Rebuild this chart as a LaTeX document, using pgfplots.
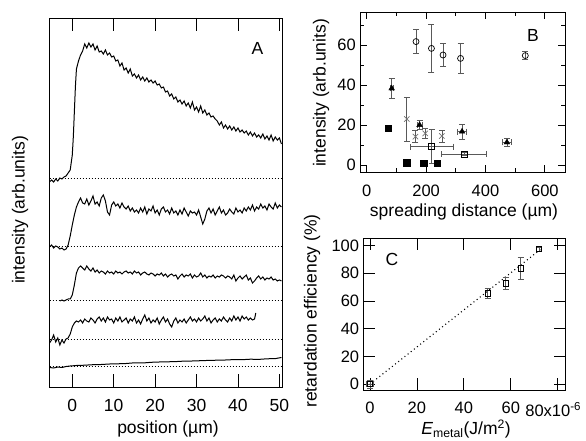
\documentclass[border=0pt]{standalone}
\usepackage{fontspec}
\setmainfont{Liberation Sans}
\usepackage{pgfplots}
\pgfplotsset{compat=1.18}
\newcommand\fs{\fontsize{17.5}{21}\selectfont}
\newcommand\ts{\fontsize{16.5}{19}\selectfont}
\pgfplotsset{
  panel/.style={scale only axis, anchor=south west, tick align=inside,
    axis line style={line width=0.8pt},
    every tick/.style={black, line width=0.8pt},
    /pgf/number format/assume math mode=true,
    tick label style={font=\ts, inner sep=0pt},
    xticklabel style={yshift=-12pt}, yticklabel style={xshift=-4pt}},
  trace/.style={black, line width=1pt, mark=none},
  base/.style={black, line width=0.6pt, dash pattern=on 1pt off 2pt},
  barstyle/.style={/pgfplots/error bars/error bar style={black!65, line width=0.7pt},
    /pgfplots/error bars/error mark options={rotate=90, black!65, mark size=3pt, line width=0.7pt}},
  bars/.style={barstyle, /pgfplots/error bars/y dir=both, /pgfplots/error bars/y explicit,
    /pgfplots/error bars/x dir=both, /pgfplots/error bars/x explicit},
  ybars/.style={barstyle, /pgfplots/error bars/y dir=both, /pgfplots/error bars/y explicit},
}
\begin{document}
\begin{tikzpicture}
\useasboundingbox (0,0) rectangle (586pt,441pt);

% A: intensity profiles, y in px above the bottom of the frame
\begin{axis}[panel, at={(49.5pt,54pt)}, width=233.2pt, height=369pt,
  xmin=-5.5, xmax=50.8, ymin=0, ymax=369,
  xtick={0,10,...,50}, ytick=\empty, major tick length=13pt,
  tick label style={font=\fs}]
\addplot[base] coordinates {(-5.5,208.7) (50.8,208.7)};
\addplot[base] coordinates {(-5.5,141) (50.8,141)};
\addplot[base] coordinates {(-5.5,87) (50.8,87)};
\addplot[base] coordinates {(-5.5,48) (50.8,48)};
\addplot[base] coordinates {(-5.5,20.3) (50.8,20.3)};
\addplot[trace] coordinates {
(-5.5,205) (-5,207) (-4.5,205) (-4,208) (-3.5,206) (-3,209) (-2.5,208) (-2,210)
(-1.5,211) (-1,214) (-0.5,217) (0,232) (0.25,250) (0.5,275) (0.75,300) (1,318)
(1.5,326) (2,332) (2.5,336) (3,343) (3.5,339) (4,344) (4.5,340) (5,343) (5.5,337)
(6,341) (6.5,335) (7,336) (7.5,333) (8,337) (8.5,332) (9,334) (9.5,330) (10,331)
(10.5,326) (11,327) (11.5,321) (12,324) (12.5,317) (13,319) (13.5,314) (14,318)
(14.5,311) (15,313) (15.5,309) (16,312) (16.5,307) (17,310) (17.5,306) (18,309)
(18.5,305) (19,307) (19.5,304) (20,306) (20.5,302) (21,303) (21.5,299) (22,300)
(22.5,295) (23,296) (23.5,291) (24,293) (24.5,288) (25,290) (25.5,285) (26,287)
(26.5,283) (27,286) (27.5,281) (28,284) (28.5,279) (29,285) (29.5,277) (30,280)
(30.5,275) (31,281) (31.5,274) (32,277) (32.5,272) (33,274) (33.5,270) (34,271)
(34.5,268) (35,266) (35.5,262) (36,265) (36.5,259) (37,262) (37.5,258) (38,261)
(38.5,257) (39,260) (39.5,256) (40,259) (40.5,255) (41,257) (41.5,254) (42,256)
(42.5,252) (43,255) (43.5,251) (44,254) (44.5,250) (45,252) (45.5,249) (46,253)
(46.5,248) (47,251) (47.5,247) (48,252) (48.5,246) (49,250) (49.5,247) (50,249)
(50.5,243)};
\addplot[trace] coordinates {
(-5.5,140) (-5,142) (-4.5,139) (-4,141) (-3.5,140) (-3,138) (-2.5,139) (-2,137)
(-1.5,138) (-1,142) (-0.5,151) (0,162) (0.5,172) (1,180) (1.5,185) (2,189)
(2.5,184) (3,183) (3.5,188) (4,182) (4.5,186) (5,191) (5.5,183) (6,185) (6.5,181)
(7,189) (7.5,192) (8,186) (8.5,175) (9,172) (9.5,182) (10,185) (10.5,181) (11,183)
(11.5,179) (12,184) (12.5,180) (13,178) (13.5,181) (14,176) (14.5,179) (15,175)
(15.5,177) (16,174) (16.5,179) (17,175) (17.5,180) (18,173) (18.5,178) (19,176)
(19.5,181) (20,174) (20.5,177) (21,172) (21.5,178) (22,180) (22.5,175) (23,177)
(23.5,173) (24,179) (24.5,174) (25,176) (25.5,172) (26,177) (26.5,173) (27,179)
(27.5,175) (28,171) (28.5,176) (29,174) (29.5,175) (30,172) (30.5,177) (31,170)
(31.5,163) (32,168) (32.5,176) (33,179) (33.5,174) (34,178) (34.5,172) (35,176)
(35.5,180) (36,174) (36.5,177) (37,172) (37.5,174) (38,178) (38.5,175) (39,173)
(39.5,179) (40,175) (40.5,177) (41,174) (41.5,179) (42,176) (42.5,180) (43,177)
(43.5,182) (44,176) (44.5,180) (45,178) (45.5,183) (46,179) (46.5,181) (47,177)
(47.5,183) (48,180) (48.5,178) (49,184) (49.5,179) (50,182) (50.5,180)};
\addplot[trace] coordinates {
(-3,86) (-2.5,87) (-2,86) (-1.5,87) (-1,88) (-0.5,88) (0,92) (0.5,102) (1,114)
(1.5,119) (2,121) (2.5,119) (3,117) (3.5,121) (4,118) (4.5,116) (5,119) (5.5,115)
(6,117) (6.5,114) (7,116) (7.5,115) (8,113) (8.5,116) (9,114) (9.5,115) (10,113)
(10.5,116) (11,114) (11.5,115) (12,113) (12.5,115) (13,116) (13.5,114) (14,115)
(14.5,113) (15,116) (15.5,114) (16,115) (16.5,112) (17,114) (17.5,115) (18,113)
(18.5,112) (19,114) (19.5,113) (20,111) (20.5,113) (21,112) (21.5,114) (22,111)
(22.5,113) (23,110) (23.5,112) (24,113) (24.5,111) (25,112) (25.5,108) (26,111)
(26.5,113) (27,110) (27.5,112) (28,111) (28.5,113) (29,109) (29.5,112) (30,110)
(30.5,111) (31,114) (31.5,110) (32,112) (32.5,109) (33,111) (33.5,110) (34,112)
(34.5,109) (35,111) (35.5,110) (36,112) (36.5,111) (37,109) (37.5,111) (38,110)
(38.5,108) (39,112) (39.5,106) (40,109) (40.5,111) (41,108) (41.5,110) (42,112)
(42.5,107) (43,109) (43.5,104) (44,106) (44.5,109) (45,111) (45.5,108) (46,110)
(46.5,107) (47,109) (47.5,108) (48,110) (48.5,107) (49,108) (49.5,106) (50,107)
(50.5,106)};
\addplot[trace] coordinates {
(-5.5,44) (-5,47) (-4.5,52) (-4,45) (-3.5,49) (-3,42) (-2.5,47) (-2,44) (-1.5,48)
(-1,49) (-0.5,53) (0,60) (0.5,64) (1,66) (1.5,65) (2,67) (2.5,64) (3,68) (3.5,66)
(4,65) (4.5,69) (5,67) (5.5,64) (6,68) (6.5,70) (7,66) (7.5,69) (8,65) (8.5,70)
(9,67) (9.5,68) (10,64) (10.5,69) (11,66) (11.5,70) (12,65) (12.5,67) (13,69)
(13.5,64) (14,68) (14.5,66) (15,70) (15.5,64) (16,67) (16.5,63) (17,68) (17.5,72)
(18,66) (18.5,69) (19,64) (19.5,67) (20,65) (20.5,69) (21,63) (21.5,67) (22,70)
(22.5,65) (23,68) (23.5,63) (24,60) (24.5,66) (25,69) (25.5,64) (26,67) (26.5,65)
(27,68) (27.5,64) (28,67) (28.5,70) (29,66) (29.5,68) (30,65) (30.5,69) (31,66)
(31.5,68) (32,71) (32.5,66) (33,69) (33.5,64) (34,67) (34.5,69) (35,65) (35.5,68)
(36,66) (36.5,70) (37,67) (37.5,65) (38,69) (38.5,66) (39,71) (39.5,67) (40,70)
(40.5,66) (41,71) (41.5,68) (42,70) (42.5,67) (43,69) (43.5,67) (44,68) (44.3,74)};
\addplot[trace] coordinates {
(-5.5,19.5) (-4.5,19) (-3.5,20) (-2.5,19.5) (-1.5,20.5) (-0.5,21) (1,21.5) (3,21.8)
(5,22.3) (7,22.5) (9,23) (11,23.2) (13,23.5) (15,24.2) (17,24) (19,24.7) (21,25)
(23,25.2) (25,25.4) (27,25.9) (29,26) (31,26.3) (33,26.6) (35,26.8) (37,27)
(39,27.4) (41,27.3) (43,27.8) (45,27.6) (47,28.2) (49,28.4) (50.5,29.5)};
\node[font=\fs] at (axis cs:44.7,339) {A};
\end{axis}

% B
\begin{axis}[panel, at={(360pt,268.5pt)}, width=205pt, height=160.5pt,
  xmin=-22.6, xmax=667.7, ymin=-3.75, ymax=76.5,
  xtick={0,200,400,600}, minor xtick={100,300,500},
  ytick={0,20,40,60}, minor ytick={10,30,50,70},
  major tick length=7pt, minor tick length=4pt]
\addplot[only marks, mark=o, mark size=3pt, black, line width=0.7pt,
  mark options={fill=white}, ybars]
  coordinates {(166,61.7) +- (0,6) (218,58.3) +- (0,11.8) (257,55) +- (0,5.7)
  (316,53.3) +- (0,7.4) (534,54.7) +- (0,2)};
\addplot[only marks, mark=x, mark size=3.8pt, black!55, line width=0.7pt, ybars]
  coordinates {(135,23) +- (0,11) (164,14.2) +- (0,3) (197,15.8) +- (0,2.5)
  (253,14.5) +- (0,3)};
\addplot[only marks, mark=triangle*, mark size=3.3pt, black, bars]
  coordinates {(84,38.3) +- (6,5) (178,20) +- (8,2.3) (321,16.7) +- (15,3.8)
  (472,11.3) +- (15,2)};
\addplot[only marks, mark=square, mark size=3pt, black, line width=0.7pt,
  mark options={fill=white}, bars]
  coordinates {(219,9.2) +- (73,8.5) (328,5.5) +- (76,0.8)};
\addplot[only marks, mark=square*, mark size=3.3pt, black]
  coordinates {(73,18.3) (134,1.2) (191,0.8) (237,0.8)};
\node[font=\fs] at (axis cs:560,65) {B};
\end{axis}

% C
\begin{axis}[panel, at={(363.3pt,51pt)}, width=202.4pt, height=151.7pt,
  xmin=-2.85, xmax=83.4, ymin=-4.3, ymax=105.3,
  xtick={0,20,...,80},
  xticklabels={0,20,40,60,\hspace*{-9pt}80x10\textsuperscript{-6}},
  ytick={0,20,...,100}, major tick length=12pt]
\addplot[black, line width=1.1pt, dash pattern=on 1pt off 3pt]
  coordinates {(0,0) (73.2,98)};
\addplot[only marks, mark=square, mark size=2.6pt, black, line width=0.6pt, bars]
  coordinates {(0,0) +- (1.5,3)};
\addplot[only marks, mark=square, mark size=2.6pt, black, line width=0.6pt, ybars]
  coordinates {(50.1,65.5) +- (0,3.8) (57.8,72.8) +- (0,4.6)
  (64.2,83.6) +- (0,7.7) (72,97.6) +- (0,1.5)};
\node[font=\fs] at (axis cs:9.4,89.7) {C};
\end{axis}

\node[font=\fs, rotate=90] at (20pt,231pt) {intensity (arb.units)};
\node[font=\fs] at (168pt,12pt) {position (µm)};
\node[font=\fs, rotate=90] at (321pt,348pt) {intensity (arb.units)};
\node[font=\fs] at (464pt,229pt) {spreading distance (µm)};
\node[font=\fs, rotate=90] at (312pt,130pt) {retardation efficiency (\%)};
\node[font=\fs, anchor=base] at (466pt,6.5pt) {\textit{E}\textsubscript{metal}(J/m\textsuperscript{2})};
\end{tikzpicture}
\end{document}
